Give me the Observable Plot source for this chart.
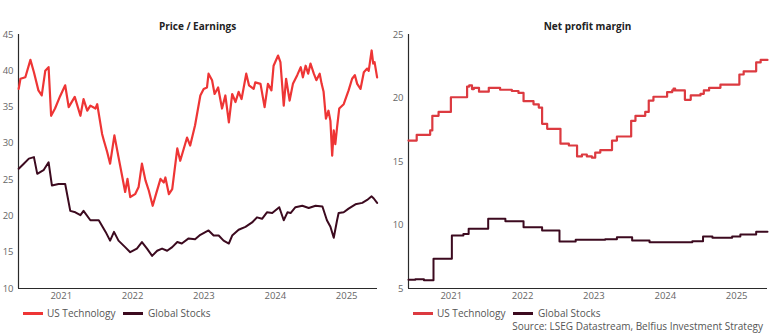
<!DOCTYPE html>
<html>
<head>
<meta charset="utf-8">
<script src="https://cdn.jsdelivr.net/npm/d3@7"></script>
<script src="https://cdn.jsdelivr.net/npm/@observablehq/plot@0.6"></script>
<style>
  html, body { margin: 0; padding: 0; background: #fff; }
  #root { position: relative; width: 780px; height: 334px; overflow: hidden; font-family: "Open Sans", sans-serif; }
  .panel { position: absolute; top: 0; }
  .title { position: absolute; top: 20px; height: 12px; line-height: 12px; font-size: 10px; font-weight: 700; color: #222; text-align: center; white-space: nowrap; }
  .sw { position: absolute; height: 3px; width: 20px; top: 312px; }
  .lt { position: absolute; top: 306px; height: 14px; line-height: 14px; font-size: 10px; color: #555; white-space: nowrap; }
  .src { position: absolute; right: 17px; top: 319px; height: 14px; line-height: 14px; font-size: 10px; color: #555; white-space: nowrap; }
</style>
</head>
<body>
<div id="root"></div>
<script>
// ---------- DATA ----------
const seriesNames = ["US Technology", "Global Stocks"];
const panelTitles = ["Price / Earnings", "Net profit margin"];
const sourceText = "Source: LSEG Datastream, Belfius Investment Strategy";
const yearLabels = [2021, 2022, 2023, 2024, 2025];
const xRange = ["2020-11-24", "2025-12-06"];
const peTicks = [10, 15, 20, 25, 30, 35, 40, 45];
const npmTicks = [5, 10, 15, 20, 25];

const peTechDates = ["2020-11-25","2020-12-04","2020-12-29","2021-01-24","2021-02-11","2021-03-06","2021-03-23","2021-04-10","2021-04-27","2021-05-10","2021-05-30","2021-06-25","2021-07-21","2021-08-08","2021-09-08","2021-10-07","2021-10-23","2021-11-11","2021-11-27","2021-12-23","2022-01-01","2022-01-26","2022-02-04","2022-02-21","2022-03-08","2022-03-30","2022-04-20","2022-05-10","2022-05-24","2022-06-05","2022-06-19","2022-07-14","2022-08-01","2022-08-18","2022-09-05","2022-09-22","2022-10-12","2022-10-29","2022-11-21","2022-12-08","2022-12-16","2023-01-03","2023-01-20","2023-02-15","2023-03-02","2023-04-06","2023-04-22","2023-05-17","2023-06-13","2023-06-30","2023-07-17","2023-07-25","2023-08-12","2023-08-25","2023-09-12","2023-10-02","2023-10-19","2023-11-06","2023-11-23","2023-12-10","2023-12-26","2024-01-10","2024-02-03","2024-02-17","2024-03-12","2024-03-20","2024-04-16","2024-05-07","2024-05-24","2024-06-11","2024-06-22","2024-07-15","2024-07-27","2024-08-13","2024-08-25","2024-09-12","2024-09-29","2024-10-21","2024-11-08","2024-11-19","2024-12-03","2024-12-16","2024-12-28","2025-01-14","2025-01-27","2025-02-13","2025-02-23","2025-03-05","2025-03-17","2025-03-30","2025-04-09","2025-04-18","2025-04-26","2025-05-04","2025-05-13","2025-05-24","2025-06-16","2025-07-11","2025-07-29","2025-08-12","2025-08-24","2025-09-10","2025-09-27","2025-10-14","2025-10-22","2025-11-06","2025-11-14","2025-11-21","2025-12-04"];
const peTechValues = [37.5,38.9,39.1,41.5,39.8,37.3,36.6,40.0,40.5,33.8,34.8,36.5,38.0,35.0,36.4,33.8,36.1,34.5,35.2,34.8,35.4,31.3,30.4,28.8,27.2,31.1,28.1,25.3,23.3,25.1,22.6,23.0,24.0,27.2,24.9,23.5,21.4,23.0,25.1,24.6,25.3,23.0,23.7,29.3,27.6,30.8,29.7,32.5,36.6,37.5,37.7,39.6,38.7,36.8,37.7,34.8,36.6,32.9,36.8,35.7,37.1,36.1,39.6,38.0,37.5,38.4,38.2,35.0,38.2,37.3,40.7,42.1,41.2,35.2,38.9,35.9,38.2,39.4,40.5,39.1,40.7,39.6,41.0,39.6,38.7,39.6,38.2,37.1,33.4,34.5,33.1,28.3,31.8,29.9,32.2,34.8,35.4,37.3,38.9,39.4,38.2,37.5,39.8,40.3,40.0,42.8,41.0,41.2,39.1];

const peGlobalDates = ["2020-11-25","2020-12-21","2021-01-16","2021-02-11","2021-02-28","2021-04-01","2021-04-27","2021-05-14","2021-06-17","2021-07-21","2021-08-16","2021-09-11","2021-10-07","2021-10-23","2021-11-27","2022-01-09","2022-02-13","2022-03-08","2022-03-28","2022-04-20","2022-05-24","2022-06-19","2022-07-23","2022-08-18","2022-09-13","2022-10-09","2022-11-04","2022-11-29","2022-12-25","2023-01-20","2023-02-15","2023-03-10","2023-04-14","2023-05-17","2023-06-13","2023-07-25","2023-08-20","2023-09-15","2023-10-10","2023-11-06","2023-11-23","2023-12-26","2024-01-30","2024-03-04","2024-03-29","2024-04-24","2024-05-19","2024-06-15","2024-07-21","2024-08-13","2024-09-01","2024-09-17","2024-10-12","2024-11-16","2024-12-19","2025-01-23","2025-02-27","2025-03-22","2025-04-09","2025-04-26","2025-05-13","2025-05-21","2025-06-16","2025-07-11","2025-08-15","2025-09-19","2025-10-14","2025-11-06","2025-11-17","2025-12-04"];
const peGlobalValues = [26.5,27.2,27.9,28.1,25.8,26.3,27.4,24.2,24.4,24.4,20.7,20.5,20.1,20.7,19.4,19.4,17.8,16.6,17.8,16.6,15.7,15.0,15.5,16.4,15.5,14.5,15.2,15.5,15.2,15.7,16.4,16.2,16.9,16.8,17.4,18.0,17.3,17.3,16.6,16.2,17.3,18.1,18.5,19.1,19.8,19.6,20.5,20.4,21.2,19.4,20.5,20.4,21.2,21.4,21.1,21.4,21.3,19.4,18.5,17.0,19.4,20.4,20.5,21.0,21.6,21.8,22.2,22.7,22.4,21.8];

const npmTechDates = ["2020-11-24","2021-01-05","2021-03-15","2021-03-26","2021-04-27","2021-06-29","2021-09-20","2021-10-01","2021-10-15","2021-10-25","2021-11-20","2022-01-09","2022-03-08","2022-05-07","2022-06-10","2022-07-06","2022-08-26","2022-09-22","2022-10-09","2022-11-04","2023-01-11","2023-02-23","2023-04-06","2023-05-01","2023-05-26","2023-06-21","2023-07-08","2023-08-03","2023-10-02","2023-10-27","2024-01-08","2024-01-30","2024-03-20","2024-04-07","2024-05-01","2024-07-10","2024-08-05","2024-08-12","2024-08-20","2024-10-09","2024-11-08","2024-12-28","2025-01-14","2025-02-10","2025-04-09","2025-07-15","2025-08-06","2025-10-09","2025-11-01","2025-12-06"];
const npmTechValues = [16.65,17.1,17.45,18.6,18.9,20.06,20.9,21.0,20.7,20.8,20.5,20.8,20.65,20.55,20.4,19.75,19.5,19.25,17.97,17.57,16.4,16.26,15.4,15.55,15.4,15.3,15.7,15.9,16.65,16.97,18.2,18.6,18.9,19.8,20.1,20.46,20.6,20.75,20.6,19.86,20.2,20.33,20.6,20.8,21.06,21.85,22.1,22.8,23.0,23.0];

const npmGlobalDates = ["2020-11-24","2020-12-29","2021-02-11","2021-04-01","2021-07-04","2021-09-01","2021-09-28","2022-01-06","2022-04-04","2022-07-06","2022-10-09","2023-01-06","2023-03-30","2023-08-28","2023-10-27","2024-01-13","2024-04-11","2024-11-16","2025-01-10","2025-02-27","2025-06-08","2025-07-20","2025-10-09","2025-12-06"];
const npmGlobalValues = [5.68,5.72,5.65,7.34,9.17,9.3,9.7,10.49,10.3,9.83,9.57,8.7,8.83,8.87,9.04,8.78,8.65,8.73,9.1,9.0,9.1,9.25,9.46,9.46];

// ---------- STYLE ----------
const techColorPE = "#ee3535";
const techColorNPM = "#dc3a40";
const globalColor = "#3c0a1f";
const axisColor = "#2a2a2a";

// ---------- BUILD ----------
const parse = d3.utcParse("%Y-%m-%d");
const toRows = (dates, vals) => dates.map((d, i) => ({date: parse(d), value: vals[i]}));
const yearTicks = yearLabels.map(y => new Date(Date.UTC(y, 6, 1)));
const xDomain = xRange.map(parse);

function panel(tech, glob, yTicks, curve, techColor) {
  return Plot.plot({
    width: 390, height: 304,
    marginLeft: 18, marginRight: 13, marginTop: 34, marginBottom: 16,
    style: {fontFamily: "'Open Sans', sans-serif", fontSize: "9.5px", color: "#666", background: "transparent", overflow: "visible"},
    x: {type: "utc", domain: xDomain, ticks: yearTicks, tickFormat: d3.utcFormat("%Y"), tickSize: 0, tickPadding: 4, label: null},
    y: {domain: [yTicks[0], yTicks[yTicks.length - 1]], ticks: yTicks, tickSize: 0, tickPadding: 5, label: null},
    marks: [
      Plot.ruleX([xDomain[0]], {stroke: axisColor, strokeWidth: 1.2}),
      Plot.ruleY([yTicks[0]], {stroke: axisColor, strokeWidth: 1.2}),
      Plot.line(glob, {x: "date", y: "value", stroke: globalColor, strokeWidth: 2, curve}),
      Plot.line(tech, {x: "date", y: "value", stroke: techColor, strokeWidth: 2.2, curve})
    ]
  });
}

const root = document.getElementById("root");
const panels = [
  {left: 0, chart: panel(toRows(peTechDates, peTechValues), toRows(peGlobalDates, peGlobalValues), peTicks, "linear", techColorPE), techColor: techColorPE},
  {left: 390, chart: panel(toRows(npmTechDates, npmTechValues), toRows(npmGlobalDates, npmGlobalValues), npmTicks, "step-after", techColorNPM), techColor: techColorNPM}
];
panels.forEach((p, i) => {
  const wrap = document.createElement("div");
  wrap.className = "panel";
  wrap.style.left = p.left + "px";
  wrap.appendChild(p.chart);
  root.appendChild(wrap);

  const t = document.createElement("div");
  t.className = "title";
  t.style.left = (p.left + 18) + "px";
  t.style.width = (390 - 18 - 13) + "px";
  t.textContent = panelTitles[i];
  root.appendChild(t);

  const colors = [p.techColor, globalColor];
  const swX = [23, 123], txX = [47, 148];
  seriesNames.forEach((name, j) => {
    const sw = document.createElement("div");
    sw.className = "sw";
    sw.style.left = (p.left + swX[j]) + "px";
    sw.style.background = colors[j];
    root.appendChild(sw);
    const lt = document.createElement("div");
    lt.className = "lt";
    lt.style.left = (p.left + txX[j]) + "px";
    lt.textContent = name;
    root.appendChild(lt);
  });
});
const src = document.createElement("div");
src.className = "src";
src.textContent = sourceText;
root.appendChild(src);
</script>
</body>
</html>
